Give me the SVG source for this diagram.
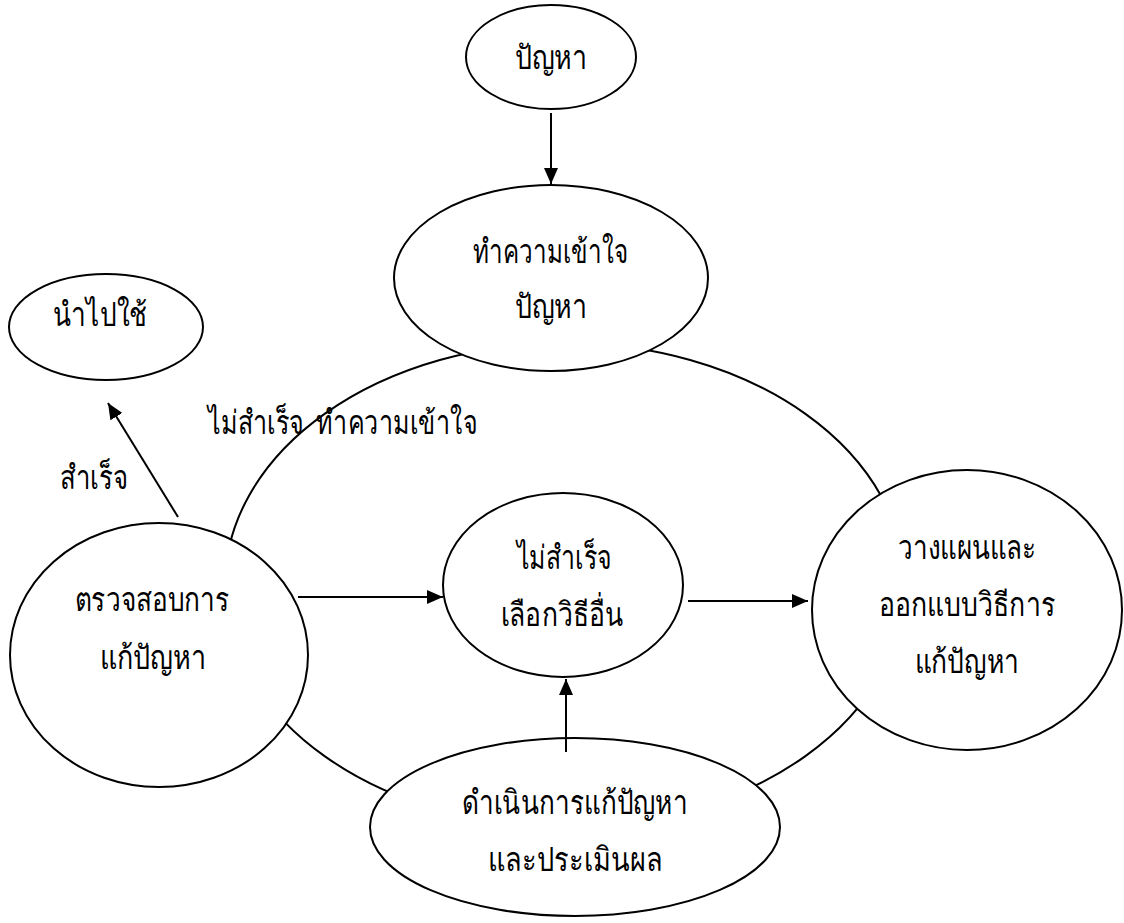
<svg xmlns="http://www.w3.org/2000/svg" width="1124" height="923" viewBox="0 0 1124 923">
  <style>
    .node { fill: #ffffff; stroke: #000000; stroke-width: 2; }
    .ring { fill: none; stroke: #000000; stroke-width: 2; }
    .edge { fill: none; stroke: #000000; stroke-width: 2; }
    text { font-family: "Liberation Serif", "DejaVu Serif", serif; font-size: 33px; font-weight: normal; fill: #000000; text-anchor: middle; }
    .free { text-anchor: start; }
  </style>
  <defs>
    <marker id="arrow" viewBox="0 0 16 14" refX="16" refY="7" markerWidth="16" markerHeight="14" markerUnits="userSpaceOnUse" orient="auto">
      <path d="M0,0 L16,7 L0,14 Z" fill="#000000"/>
    </marker>
  </defs>

  <!-- process cycle ring behind the steps -->
  <ellipse class="ring" cx="565" cy="585" rx="340" ry="242"/>

  <g id="problem">
    <ellipse class="node" cx="551" cy="57" rx="85" ry="52"/>
    <text x="551" y="69" textLength="73" lengthAdjust="spacingAndGlyphs">ปัญหา</text>
  </g>

  <g id="understand">
    <ellipse class="node" cx="551" cy="278" rx="157" ry="93"/>
    <text x="550" y="263" textLength="155" lengthAdjust="spacingAndGlyphs">ทำความเข้าใจ</text>
    <text x="551" y="318" textLength="73" lengthAdjust="spacingAndGlyphs">ปัญหา</text>
  </g>

  <g id="apply">
    <ellipse class="node" cx="106" cy="327" rx="97" ry="53"/>
    <text x="100" y="326" textLength="94" lengthAdjust="spacingAndGlyphs">นำไปใช้</text>
  </g>

  <g id="check">
    <ellipse class="node" cx="159" cy="655" rx="149" ry="132"/>
    <text x="152" y="611" textLength="155" lengthAdjust="spacingAndGlyphs">ตรวจสอบการ</text>
    <text x="153" y="669" textLength="107" lengthAdjust="spacingAndGlyphs">แก้ปัญหา</text>
  </g>

  <g id="retry">
    <ellipse class="node" cx="563" cy="585" rx="120" ry="92"/>
    <text x="564" y="569" textLength="95" lengthAdjust="spacingAndGlyphs">ไม่สำเร็จ</text>
    <text x="562" y="626" textLength="123" lengthAdjust="spacingAndGlyphs">เลือกวิธีอื่น</text>
  </g>

  <g id="plan">
    <ellipse class="node" cx="967" cy="610" rx="155" ry="140"/>
    <text x="967" y="559" textLength="139" lengthAdjust="spacingAndGlyphs">วางแผนและ</text>
    <text x="967" y="616" textLength="177" lengthAdjust="spacingAndGlyphs">ออกแบบวิธีการ</text>
    <text x="967" y="673" textLength="105" lengthAdjust="spacingAndGlyphs">แก้ปัญหา</text>
  </g>

  <g id="execute">
    <ellipse class="node" cx="575" cy="827" rx="205" ry="89"/>
    <text x="575" y="814" textLength="226" lengthAdjust="spacingAndGlyphs">ดำเนินการแก้ปัญหา</text>
    <text x="575" y="871" textLength="174" lengthAdjust="spacingAndGlyphs">และประเมินผล</text>
  </g>

  <g id="connectors">
    <line class="edge" x1="551" y1="113" x2="551" y2="184" marker-end="url(#arrow)"/>
    <line class="edge" x1="178" y1="517" x2="108" y2="403" marker-end="url(#arrow)"/>
    <line class="edge" x1="298" y1="597" x2="443" y2="597" marker-end="url(#arrow)"/>
    <line class="edge" x1="688" y1="601" x2="808" y2="601" marker-end="url(#arrow)"/>
    <line class="edge" x1="566" y1="752" x2="566" y2="679" marker-end="url(#arrow)"/>
  </g>

  <g id="labels">
    <text class="free" x="208" y="434" textLength="269" lengthAdjust="spacingAndGlyphs">ไม่สำเร็จ&#160; ทำความเข้าใจ</text>
    <text class="free" x="60" y="489" textLength="68" lengthAdjust="spacingAndGlyphs">สำเร็จ</text>
  </g>
</svg>
